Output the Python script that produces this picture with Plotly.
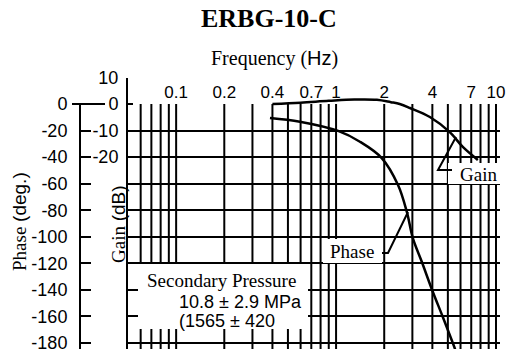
import plotly.graph_objects as go

# ---- data ----
gain_freq = [0.4, 0.6, 0.9, 1.3, 1.8, 2.2, 2.5, 2.9, 3.86, 5.14, 6.2, 7.7]
gain_db = [0.0, 0.5, 1.2, 1.7, 1.6, 0.7, 0.0, -1.5, -4.9, -10.6, -16.2, -21.1]

phase_freq = [0.386, 0.594, 1.03, 1.41, 1.93, 2.44, 2.77, 3.02, 3.44, 4.03, 4.65, 5.37, 5.6]
phase_deg = [-10.5, -13.3, -20.3, -28.4, -40.7, -61, -81.3, -101, -119, -141.6, -160.4, -180, -186]

freq_tick_vals = [0.1, 0.2, 0.4, 0.7, 1, 2, 4, 7, 10]
freq_tick_text = ["0.1", "0.2", "0.4", "0.7", "1", "2", "4", "7", "10"]
grid_freqs = [0.06, 0.07, 0.08, 0.09, 0.1, 0.2, 0.3, 0.4, 0.5, 0.6, 0.7, 0.8, 0.9,
              1, 2, 3, 4, 5, 6, 7, 8, 9, 10]
phase_ticks = [0, -20, -40, -60, -80, -100, -120, -140, -160, -180]
gain_ticks = [10, 0, -10, -20]

W, H = 506, 349
SERIF = "Liberation Serif, Times New Roman, serif"
SANS = "Liberation Sans, Arial, sans-serif"


def px(x):
    return x / W


def py(y):
    return 1 - y / H


fig = go.Figure()
fig.add_trace(go.Scatter(x=phase_freq, y=phase_deg, xaxis="x", yaxis="y",
                         mode="lines", line=dict(color="black", width=2.5, shape="spline"),
                         showlegend=False, hoverinfo="skip"))
fig.add_trace(go.Scatter(x=gain_freq, y=gain_db, xaxis="x", yaxis="y2",
                         mode="lines", line=dict(color="black", width=2.5, shape="spline"),
                         showlegend=False, hoverinfo="skip"))

shapes = []
# vertical grid lines (only within the phase grid area)
for f in grid_freqs:
    shapes.append(dict(type="line", xref="x", yref="y domain", x0=f, x1=f, y0=0, y1=1,
                       line=dict(color="black", width=2), layer="below"))
# long zero tick on phase axis
shapes.append(dict(type="line", xref="paper", yref="paper", x0=px(72), x1=px(105),
                   y0=py(104), y1=py(104), line=dict(color="black", width=2)))
# white boxes
shapes.append(dict(type="rect", xref="paper", yref="paper", x0=px(138), x1=px(308),
                   y0=py(329), y1=py(264), fillcolor="white", line=dict(width=0), layer="above"))
shapes.append(dict(type="rect", xref="paper", yref="paper", x0=px(448), x1=px(506),
                   y0=py(184), y1=py(163), fillcolor="white", line=dict(width=0), layer="above"))
shapes.append(dict(type="rect", xref="paper", yref="paper", x0=px(323), x1=px(382),
                   y0=py(263), y1=py(239), fillcolor="white", line=dict(width=0), layer="above"))
# leader lines
shapes.append(dict(type="path", xref="paper", yref="paper",
                   path=f"M {px(452)},{py(170)} L {px(438)},{py(170)} L {px(456)},{py(137)}",
                   line=dict(color="black", width=2), layer="above"))
shapes.append(dict(type="path", xref="paper", yref="paper",
                   path=f"M {px(382)},{py(253)} L {px(388)},{py(253)} L {px(408)},{py(212)}",
                   line=dict(color="black", width=2), layer="above"))


def note(text, x, y, family, size, xanchor="center", angle=0):
    return dict(text=text, x=px(x), y=py(y), xref="paper", yref="paper",
                xanchor=xanchor, yanchor="middle", textangle=angle,
                showarrow=False, font=dict(family=family, size=size, color="black"))


ann = [
    note("<b>ERBG-10-C</b>", 269, 18, SERIF, 26),
    note(f"Frequency (<span style='font-family:{SANS}'>Hz</span>)", 274, 58, SERIF, 20),
    note(f"Phase <span style='font-family:{SANS}'>(deg.)</span>", 20, 222, SERIF, 19, angle=-90),
    note(f"Gain <span style='font-family:{SANS}'>(dB)</span>", 118, 224, SERIF, 19, angle=-90),
    note("Secondary Pressure", 221, 280, SERIF, 19),
    note("10.8 ± 2.9 MPa", 177, 302, SANS, 18, xanchor="left"),
    note("(1565 ± 420", 177, 321, SANS, 18, xanchor="left"),
    note("Gain", 478, 174, SERIF, 19),
    note("Phase", 352, 251, SERIF, 19),
]

fig.update_layout(
    width=W, height=H,
    margin=dict(l=0, r=0, t=0, b=0, autoexpand=False),
    paper_bgcolor="white", plot_bgcolor="rgba(0,0,0,0)",
    showlegend=False,
    xaxis=dict(type="log", domain=[px(128), px(500)],
               range=[-1.30103, 1.025], anchor="y", side="top",
               tickvals=freq_tick_vals, ticktext=freq_tick_text,
               ticks="", showgrid=False, zeroline=False, showline=False, automargin=False,
               ticklabeloverflow="allow",
               tickfont=dict(family=SANS, size=17, color="black"), ticklabelstandoff=2),
    yaxis=dict(domain=[0, 245 / H], range=[-184.52, 0], anchor="free", position=px(80),
               side="left", tickvals=phase_ticks, ticktext=[str(v) for v in phase_ticks],
               ticks="inside", ticklen=10, tickwidth=2, tickcolor="black",
               showline=True, linewidth=2, linecolor="black", automargin=False,
               ticklabeloverflow="allow",
               showgrid=True, gridcolor="black", gridwidth=2, zeroline=False,
               tickfont=dict(family=SANS, size=18, color="black"), ticklabelstandoff=8),
    yaxis2=dict(domain=[0, (H - 77.5) / H], range=[-92.45, 10], anchor="x",
                side="left", tickvals=gain_ticks, ticktext=[str(v) for v in gain_ticks],
                ticks="inside", ticklen=5, tickwidth=2, tickcolor="black",
                showline=True, linewidth=2, linecolor="black", automargin=False,
                ticklabeloverflow="allow",
                showgrid=False, zeroline=False,
                tickfont=dict(family=SANS, size=18, color="black"), ticklabelstandoff=4),
    shapes=shapes,
    annotations=ann,
)

fig.write_html("out.html", config={"displayModeBar": False},
               post_script="document.body.style.margin='0';document.body.style.padding='0';")
